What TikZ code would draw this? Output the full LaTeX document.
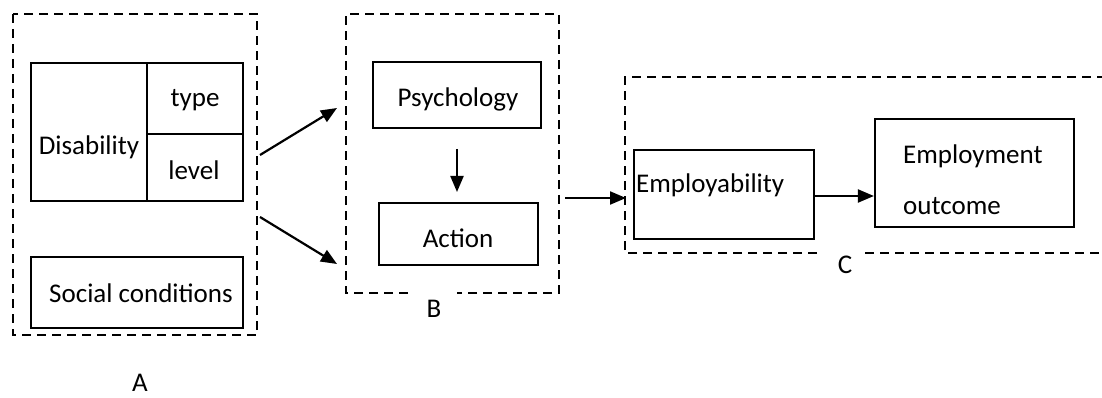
\documentclass[tikz,border=0pt]{standalone}
\usepackage{fontspec}
\setmainfont{Carlito}
\usetikzlibrary{arrows.meta}
\tikzset{
  box/.style={draw, line width=2.2pt, inner sep=0pt},
  frame/.style={draw, line width=1.8pt, dash pattern=on 9pt off 6pt},
  arr/.style={line width=2.2pt, -{Triangle[length=16pt,width=13pt]}},
  lbl/.style={font=\fontsize{27}{31}\selectfont, inner sep=0pt, anchor=center},
}
\begin{document}
\begin{tikzpicture}[x=1pt,y=-1pt]
\useasboundingbox (0,0) rectangle (1102,398);
% frame A
\draw[frame] (13,14) rectangle (257,335);
% Disability group
\draw[box] (31,63) rectangle (147,201);
\draw[box] (147,63) rectangle (243,134);
\draw[box] (147,134) rectangle (243,201);
\node[lbl] (dis) at (89,147) {Disability};
\node[lbl] (type) at (195,100) {type};
\node[lbl] (level) at (194,170) {level};
\draw[box] (31,257) rectangle (243,328);
\node[lbl] (soc) at (141,293) {Social conditions};
\node[lbl] (A) at (140,383) {A};
% frame B
\draw[frame] (408,293) -- (346,293) -- (346,14) -- (559,14) -- (559,293) -- (457,293);
\node[lbl] (B) at (434,309) {B};
\node[box, minimum width=168pt, minimum height=66pt] (psy) at (457,95) {};
\node[lbl] at (458,99) {Psychology};
\node[box, minimum width=159pt, minimum height=62pt] (act) at (458.5,234) {};
\node[lbl] at (458,238) {Action};
% frame C
\draw[frame] (817,253) -- (625,253) -- (625,77) -- (1102,77);
\draw[frame] (865,253) -- (1102,253);
\node[lbl] (C) at (845,265) {C};
\node[box, minimum width=180pt, minimum height=89pt] (emp) at (724,194.5) {};
\node[lbl, anchor=west] at (636,185) {Employability};
\node[box, minimum width=199pt, minimum height=108pt] (out) at (974.5,173) {};
\node[lbl, anchor=west] at (903,156) {Employment};
\node[lbl, anchor=west] at (903,206) {outcome};
% connector end points
\coordinate (a1) at (260,155);
\coordinate (b1) at (337,108);
\coordinate (a2) at (260,217);
\coordinate (b2) at (337,264);
\coordinate (bo) at (565,198);
\coordinate (ci) at (626,198);
\draw[arr] (a1) -- (b1);
\draw[arr] (a2) -- (b2);
\draw[arr] (psy.south |- 0,149) -- (psy.south |- 0,192);
\draw[arr] (bo) -- (ci);
\draw[arr] (emp.east |- 0,196) -- (out.west |- 0,196);
\end{tikzpicture}
\end{document}
